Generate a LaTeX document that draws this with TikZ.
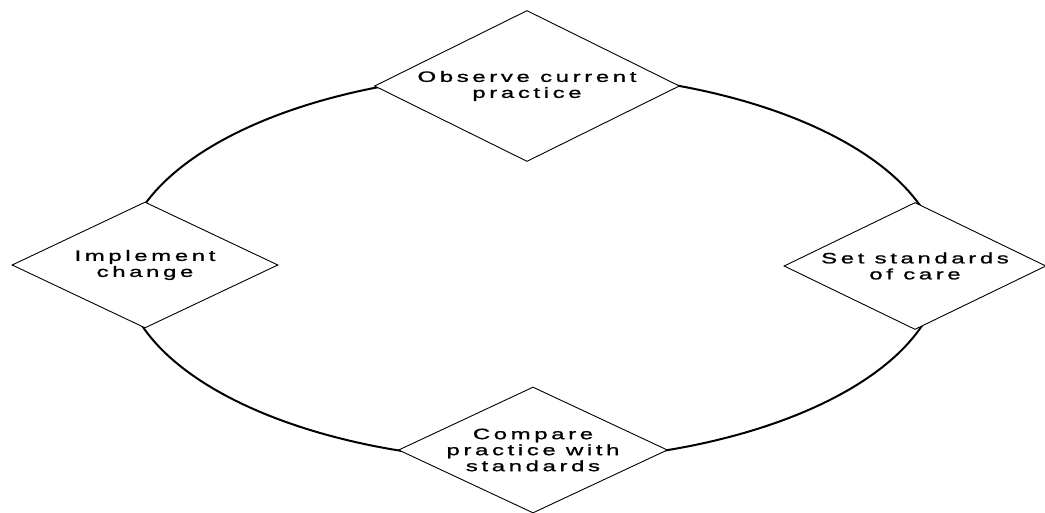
\documentclass[tikz,border=0pt]{standalone}
\usepackage{fontspec}
\newfontfamily\cyclefont[FakeStretch=1.6, LetterSpace=24, FakeBold=1.2]{Liberation Sans}
\usetikzlibrary{shapes.geometric}

\begin{document}
\begin{tikzpicture}[x=1pt, y=-1pt,
        stage/.style={diamond, draw, fill=white, line width=0.9pt, inner sep=0pt},
        stagetext/.style={align=center, font=\cyclefont\fontsize{15}{16}\selectfont}]
        \useasboundingbox (0,0) rectangle (1045,513);

        % Cycle
        \draw[line width=2pt] (532,267) ellipse [x radius=409pt, y radius=194pt];

        % Stages
        \node[stage, minimum width=305pt, minimum height=151pt,
            label={[stagetext]center:Observe current\\practice}] (observe) at (527,86) {};
        \node[stage, minimum width=262pt, minimum height=127pt,
            label={[stagetext]center:Set standards\\of care}] (standards) at (915,266) {};
        \node[stage, minimum width=269pt, minimum height=126pt,
            label={[stagetext]center:Compare\\practice with\\standards}] (compare) at (533,450) {};
        \node[stage, minimum width=266pt, minimum height=126pt,
            label={[stagetext]center:Implement\\change}] (implement) at (145,265) {};
    \end{tikzpicture}
\end{document}
